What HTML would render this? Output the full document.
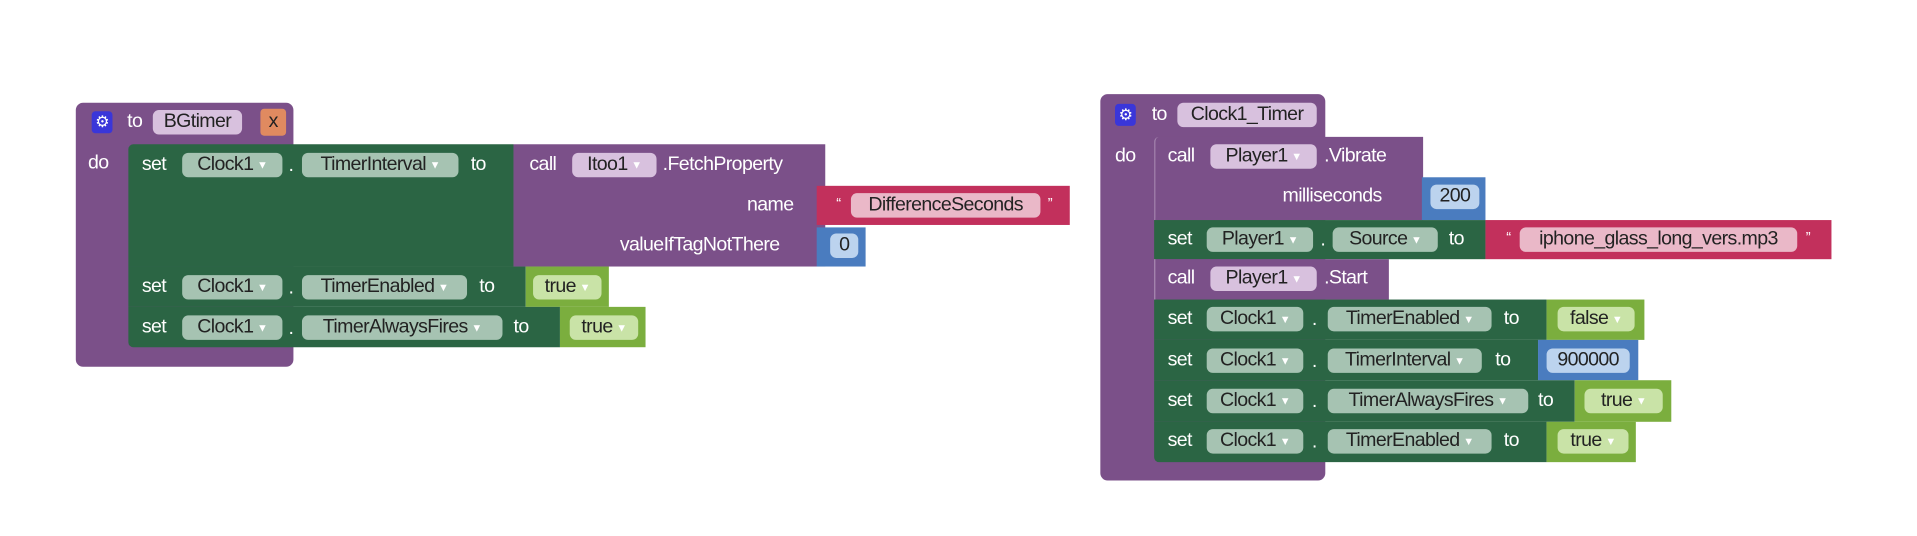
<!DOCTYPE html>
<html><head><meta charset="utf-8"><style>
html,body{margin:0;padding:0;background:#fff;width:1917px;height:535px;overflow:hidden}
#w{position:absolute;left:0;top:0;width:1568px;height:438px;transform:scale(1.2226);transform-origin:0 0;font-family:"Liberation Sans Narrow","Liberation Sans",sans-serif;font-size:16px;letter-spacing:-0.5px}
.b{position:absolute}
.t{position:absolute;color:#fff;white-space:nowrap;line-height:20px;height:20px}
.p{position:absolute;height:20px;line-height:20px;border-radius:5px;color:#222;text-align:center;white-space:nowrap}
.pu{background:#7b5089}.gr{background:#2b6544}.lg{background:#7bae3e}.rd{background:#c2305c}.bl{background:#4a7cbf}
.pg{background:#a6c3b2}.pp{background:#d8c1de}.pl{background:#c9e3a7}.pr{background:#eab8c8}.pb{background:#bcd3ee}
.dd{font-size:9px;color:#fff;margin-left:3px;vertical-align:1px}
.gear{position:absolute;width:17px;height:18px;background:#3a36d9;border-radius:3px;color:#fff;font-size:13px;text-align:center;line-height:18px}
.x{position:absolute;background:#e08a60;border-radius:3px;color:#222;text-align:center}
</style></head><body><div id="w">
<!-- LEFT -->
<div class="b pu" style="left:62px;top:84px;width:178px;height:216px;border-radius:6px"></div>
<div class="b gr" style="left:105px;top:118px;width:315px;height:100px;border-radius:4px 0 0 0"></div>
<div class="b pu" style="left:420px;top:118px;width:255px;height:100px"></div>
<div class="b rd" style="left:668px;top:152px;width:207px;height:32px"></div>
<div class="b bl" style="left:668px;top:186px;width:40px;height:32px"></div>
<div class="b gr" style="left:105px;top:218px;width:325px;height:33px"></div>
<div class="b lg" style="left:430px;top:218px;width:68px;height:33px"></div>
<div class="b gr" style="left:105px;top:251px;width:353px;height:33px;border-radius:0 0 0 4px"></div>
<div class="b lg" style="left:458px;top:251px;width:70px;height:33px"></div>

<div class="gear" style="left:75px;top:91px">⚙</div>
<div class="t" style="left:104px;top:90px">to</div>
<div class="p pp" style="left:125px;top:90px;width:73px">BGtimer</div>
<div class="x" style="left:213px;top:89px;width:21px;height:22px;line-height:22px">x</div>
<div class="t" style="left:72px;top:124px">do</div>

<div class="t" style="left:116px;top:125px">set</div>
<div class="p pg" style="left:149px;top:125px;width:82px">Clock1<span class="dd">▼</span></div>
<div class="t" style="left:236px;top:126px">.</div>
<div class="p pg" style="left:247px;top:125px;width:128px">TimerInterval<span class="dd">▼</span></div>
<div class="t" style="left:385px;top:125px">to</div>
<div class="t" style="left:433px;top:125px">call</div>
<div class="p pp" style="left:468px;top:125px;width:69px">Itoo1<span class="dd">▼</span></div>
<div class="t" style="left:542px;top:125px">.FetchProperty</div>
<div class="t" style="left:611px;top:158px">name</div>
<div class="t" style="left:684px;top:156px;font-size:12px">“</div>
<div class="p pr" style="left:696px;top:158px;width:155px">DifferenceSeconds</div>
<div class="t" style="left:857px;top:156px;font-size:12px">”</div>
<div class="t" style="left:507px;top:191px">valueIfTagNotThere</div>
<div class="p pb" style="left:679px;top:191px;width:23px">0</div>

<div class="t" style="left:116px;top:225px">set</div>
<div class="p pg" style="left:149px;top:225px;width:82px">Clock1<span class="dd">▼</span></div>
<div class="t" style="left:236px;top:226px">.</div>
<div class="p pg" style="left:247px;top:225px;width:135px">TimerEnabled<span class="dd">▼</span></div>
<div class="t" style="left:392px;top:225px">to</div>
<div class="p pl" style="left:436px;top:225px;width:56px">true<span class="dd">▼</span></div>

<div class="t" style="left:116px;top:258px">set</div>
<div class="p pg" style="left:149px;top:258px;width:82px">Clock1<span class="dd">▼</span></div>
<div class="t" style="left:236px;top:259px">.</div>
<div class="p pg" style="left:247px;top:258px;width:164px">TimerAlwaysFires<span class="dd">▼</span></div>
<div class="t" style="left:420px;top:258px">to</div>
<div class="p pl" style="left:466px;top:258px;width:56px">true<span class="dd">▼</span></div>

<!-- RIGHT -->
<div class="b pu" style="left:900px;top:77px;width:184px;height:316px;border-radius:6px"></div>
<div class="b pu" style="left:944px;top:112px;width:219px;height:68px;border-left:1px solid #a98bb3;border-radius:4px 0 0 0"></div>
<div class="b bl" style="left:1163px;top:145px;width:52px;height:35px"></div>
<div class="b gr" style="left:944px;top:180px;width:271px;height:32px"></div>
<div class="b rd" style="left:1215px;top:180px;width:283px;height:32px"></div>
<div class="b pu" style="left:944px;top:212px;width:191px;height:33px;border-left:1px solid #a98bb3"></div>
<div class="b gr" style="left:944px;top:245px;width:321px;height:33px"></div>
<div class="b lg" style="left:1265px;top:245px;width:80px;height:33px"></div>
<div class="b gr" style="left:944px;top:278px;width:314px;height:33px"></div>
<div class="b bl" style="left:1258px;top:278px;width:82px;height:33px"></div>
<div class="b gr" style="left:944px;top:311px;width:344px;height:34px"></div>
<div class="b lg" style="left:1288px;top:311px;width:79px;height:34px"></div>
<div class="b gr" style="left:944px;top:345px;width:321px;height:33px;border-radius:0 0 0 4px"></div>
<div class="b lg" style="left:1265px;top:345px;width:73px;height:33px"></div>

<div class="gear" style="left:912px;top:85px">⚙</div>
<div class="t" style="left:942px;top:84px">to</div>
<div class="p pp" style="left:963px;top:84px;width:114px">Clock1_Timer</div>
<div class="t" style="left:912px;top:118px">do</div>

<div class="t" style="left:955px;top:118px">call</div>
<div class="p pp" style="left:990px;top:118px;width:87px">Player1<span class="dd">▼</span></div>
<div class="t" style="left:1083px;top:118px">.Vibrate</div>
<div class="t" style="left:1049px;top:151px">milliseconds</div>
<div class="p pb" style="left:1170px;top:151px;width:40px">200</div>

<div class="t" style="left:955px;top:186px">set</div>
<div class="p pg" style="left:987px;top:186px;width:87px">Player1<span class="dd">▼</span></div>
<div class="t" style="left:1080px;top:187px">.</div>
<div class="p pg" style="left:1090px;top:186px;width:86px">Source<span class="dd">▼</span></div>
<div class="t" style="left:1185px;top:186px">to</div>
<div class="t" style="left:1232px;top:184px;font-size:12px">“</div>
<div class="p pr" style="left:1243px;top:186px;width:227px">iphone_glass_long_vers.mp3</div>
<div class="t" style="left:1477px;top:184px;font-size:12px">”</div>

<div class="t" style="left:955px;top:218px">call</div>
<div class="p pp" style="left:990px;top:218px;width:87px">Player1<span class="dd">▼</span></div>
<div class="t" style="left:1083px;top:218px">.Start</div>

<div class="t" style="left:955px;top:251px">set</div>
<div class="p pg" style="left:987px;top:251px;width:79px">Clock1<span class="dd">▼</span></div>
<div class="t" style="left:1073px;top:252px">.</div>
<div class="p pg" style="left:1086px;top:251px;width:134px">TimerEnabled<span class="dd">▼</span></div>
<div class="t" style="left:1230px;top:251px">to</div>
<div class="p pl" style="left:1274px;top:251px;width:63px">false<span class="dd">▼</span></div>

<div class="t" style="left:955px;top:285px">set</div>
<div class="p pg" style="left:987px;top:285px;width:79px">Clock1<span class="dd">▼</span></div>
<div class="t" style="left:1073px;top:286px">.</div>
<div class="p pg" style="left:1086px;top:285px;width:126px">TimerInterval<span class="dd">▼</span></div>
<div class="t" style="left:1223px;top:285px">to</div>
<div class="p pb" style="left:1265px;top:285px;width:68px">900000</div>

<div class="t" style="left:955px;top:318px">set</div>
<div class="p pg" style="left:987px;top:318px;width:79px">Clock1<span class="dd">▼</span></div>
<div class="t" style="left:1073px;top:319px">.</div>
<div class="p pg" style="left:1086px;top:318px;width:164px">TimerAlwaysFires<span class="dd">▼</span></div>
<div class="t" style="left:1258px;top:318px">to</div>
<div class="p pl" style="left:1296px;top:318px;width:64px">true<span class="dd">▼</span></div>

<div class="t" style="left:955px;top:351px">set</div>
<div class="p pg" style="left:987px;top:351px;width:79px">Clock1<span class="dd">▼</span></div>
<div class="t" style="left:1073px;top:352px">.</div>
<div class="p pg" style="left:1086px;top:351px;width:134px">TimerEnabled<span class="dd">▼</span></div>
<div class="t" style="left:1230px;top:351px">to</div>
<div class="p pl" style="left:1274px;top:351px;width:58px">true<span class="dd">▼</span></div>
</div></body></html>
